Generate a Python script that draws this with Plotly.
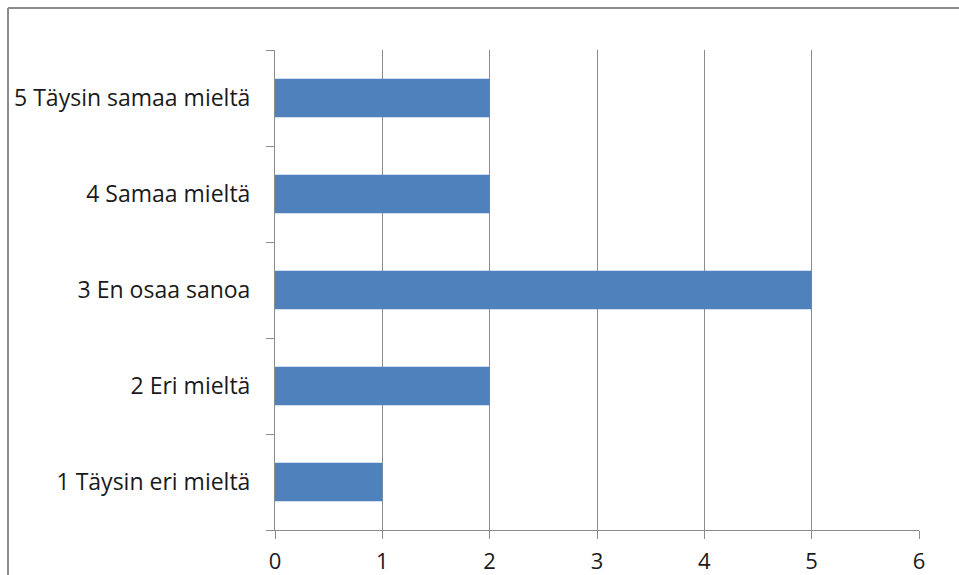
import plotly.graph_objects as go

# Survey responses per agreement level
categories = ["1 Täysin eri mieltä", "2 Eri mieltä", "3 En osaa sanoa",
              "4 Samaa mieltä", "5 Täysin samaa mieltä"]
counts = [1, 2, 5, 2, 2]
x_ticks = [0, 1, 2, 3, 4, 5, 6]

BAR = "#4F81BD"
GRID = "#8C8C8C"
FONT = "Open Sans"

fig = go.Figure(go.Bar(
    x=counts, y=categories, orientation="h",
    marker=dict(color=BAR, line=dict(width=0)),
))

W, H = 959, 575
L, R, T, B = 275, 40, 50, 45
pw, ph = W - L - R, H - T - B

fig.update_layout(
    width=W, height=H,
    margin=dict(l=L, r=R, t=T, b=B, pad=0),
    paper_bgcolor="white", plot_bgcolor="white",
    bargap=0.6, showlegend=False,
    font=dict(family=FONT, size=23, color="#1a1a1a"),
    xaxis=dict(
        range=[0, 6], tickvals=x_ticks, showgrid=True, gridcolor=GRID, gridwidth=1,
        zeroline=False, showline=True, linecolor=GRID, linewidth=1,
        ticks="outside", ticklen=8, tickcolor=GRID, ticklabelstandoff=4,
        tickfont=dict(size=22),
        automargin=False, fixedrange=True,
    ),
    yaxis=dict(
        type="category", categoryorder="array", categoryarray=categories,
        range=[-0.5, 4.5], showgrid=False, zeroline=False,
        showline=True, linecolor=GRID, linewidth=1,
        ticks="outside", ticklen=8, tickcolor=GRID, tickson="boundaries",
        ticklabelstandoff=19, automargin=False, fixedrange=True,
    ),
    shapes=[
        # outer chart frame (left and top edges)
        dict(type="line", xref="paper", yref="paper",
             x0=(8 - L) / pw, x1=(8 - L) / pw, y0=(H - B - 8) / ph, y1=-1,
             line=dict(color=GRID, width=2)),
        dict(type="line", xref="paper", yref="paper",
             x0=(8 - L) / pw, x1=(W - L) / pw + 0.1, y0=(H - B - 8) / ph, y1=(H - B - 8) / ph,
             line=dict(color=GRID, width=2)),
    ],
)

fig.write_html("out.html")
